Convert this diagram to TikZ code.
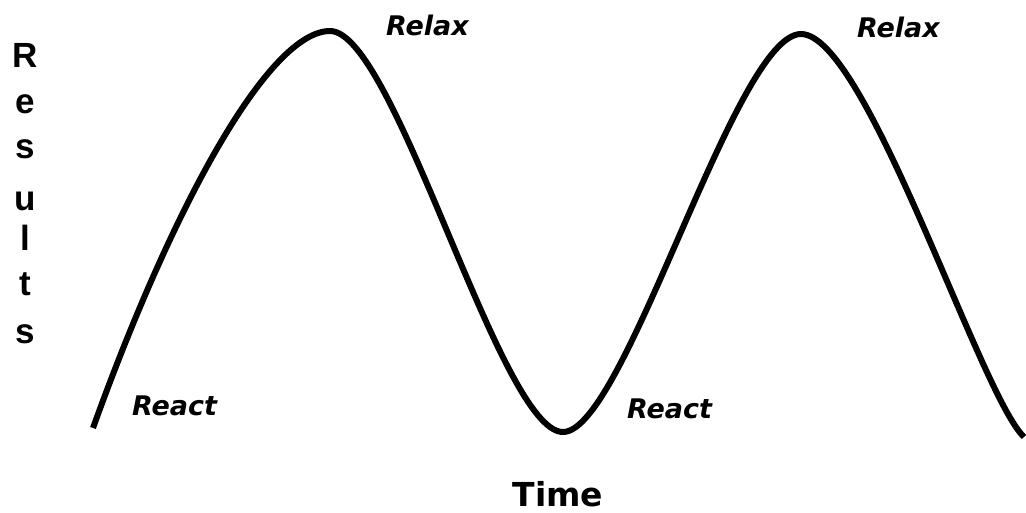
\documentclass[tikz,border=0pt]{standalone}
\usepackage{fontspec}
\newfontfamily\lblfont{DejaVu Sans}
\newfontfamily\axfont{Liberation Sans}
\begin{document}
\begin{tikzpicture}[x=1pt,y=-1pt,
  phase/.style={anchor=base west,inner sep=0pt,font=\lblfont\bfseries\itshape\fontsize{27}{27}\selectfont},
  ylet/.style={anchor=base,inner sep=0pt,font=\axfont\bfseries\fontsize{35}{35}\selectfont},
  xlab/.style={anchor=base,inner sep=0pt,font=\lblfont\bfseries\fontsize{33}{33}\selectfont},
  wave/.style={line width=6pt,line cap=butt,line join=round}]
\useasboundingbox (0,0) rectangle (1026,512);
\coordinate (s) at (93,428);
\coordinate (p1) at (330,31);
\coordinate (t1) at (563,432);
\coordinate (p2) at (801,34);
\coordinate (e) at (1024,437);
\draw[wave] (s) .. controls (175,200) and (270,31) .. (p1)
  .. controls (395,31) and (500,432) .. (t1)
  .. controls (625,432) and (735,34) .. (p2)
  .. controls (866,34) and (980,395) .. (e);
\node[phase] (relax1) at (386,35) {Relax};
\node[phase] (relax2) at (857,37) {Relax};
\node[phase] (react1) at (132,415) {React};
\node[phase] (react2) at (627,418) {React};
\node[xlab] (time) at (558,506) {Time};
\node[ylet] (r1) at (25,67) {R};
\node[ylet] (r2) at (25,113) {e};
\node[ylet] (r3) at (25,158) {s};
\node[ylet] (r4) at (25,210) {u};
\node[ylet] (r5) at (25,250) {l};
\node[ylet] (r6) at (25,295) {t};
\node[ylet] (r7) at (25,343) {s};
\end{tikzpicture}
\end{document}
